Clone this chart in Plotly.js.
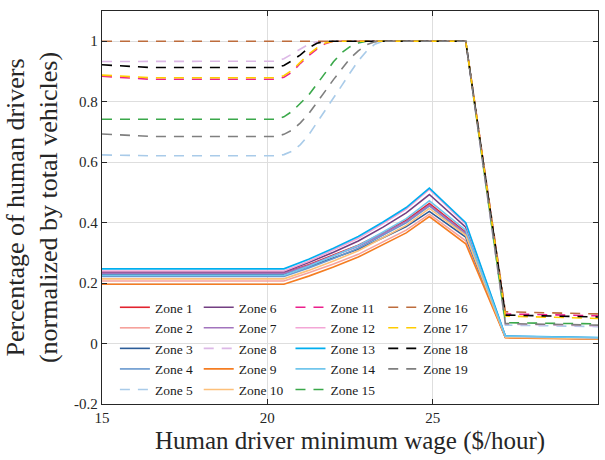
<!DOCTYPE html>
<html><head><meta charset="utf-8">
<script src="https://cdn.plot.ly/plotly-3.0.1.min.js"></script>
<style>html,body{margin:0;padding:0;background:#fff}#chart{width:605px;height:460px}</style>
</head><body><div id="chart"></div>
<script>
// x grids (human driver minimum wage, $/hour)
const xSolid = [15, 20.5, 21.25, 22, 22.75, 23.5, 24.2, 24.9, 26, 27.2, 30];
const xDashed = [15, 16.5, 20.25, 20.5, 20.75, 21, 21.25, 21.5, 21.75, 22, 22.25, 22.5, 22.75, 23, 23.25, 23.5, 26, 27.2, 30];

// solid-line zones
const zone1  = [0.233, 0.233, 0.261, 0.292, 0.325, 0.366, 0.408, 0.463, 0.368, 0.022, 0.017];
const zone2  = [0.207, 0.207, 0.234, 0.263, 0.295, 0.335, 0.375, 0.428, 0.340, 0.020, 0.015];
const zone3  = [0.229, 0.229, 0.254, 0.282, 0.312, 0.350, 0.387, 0.437, 0.352, 0.021, 0.016];
const zone4  = [0.222, 0.222, 0.250, 0.281, 0.315, 0.357, 0.399, 0.455, 0.360, 0.022, 0.017];
const zone6  = [0.237, 0.237, 0.268, 0.302, 0.339, 0.385, 0.432, 0.493, 0.385, 0.023, 0.018];
const zone7  = [0.232, 0.232, 0.259, 0.290, 0.322, 0.363, 0.404, 0.458, 0.365, 0.022, 0.017];
const zone9  = [0.196, 0.196, 0.223, 0.253, 0.286, 0.326, 0.366, 0.420, 0.330, 0.019, 0.014];
const zone10 = [0.214, 0.214, 0.242, 0.273, 0.307, 0.349, 0.391, 0.447, 0.358, 0.021, 0.016];
const zone12 = [0.240, 0.240, 0.272, 0.309, 0.348, 0.397, 0.445, 0.510, 0.395, 0.024, 0.019];
const zone13 = [0.247, 0.247, 0.279, 0.315, 0.354, 0.402, 0.450, 0.514, 0.400, 0.025, 0.020];
const zone14 = [0.226, 0.226, 0.256, 0.289, 0.324, 0.369, 0.413, 0.472, 0.375, 0.024, 0.019];

// dashed-line zones
const zone5  = [0.624, 0.621, 0.621, 0.625, 0.636, 0.658, 0.690, 0.730, 0.771, 0.812, 0.853, 0.895, 0.935, 0.967, 0.990, 1, 1, 0.061, 0.056];
const zone8  = [0.933, 0.933, 0.934, 0.942, 0.958, 0.976, 0.990, 0.998, 1, 1, 1, 1, 1, 1, 1, 1, 1, 0.064, 0.058];
const zone11 = [0.884, 0.874, 0.874, 0.881, 0.898, 0.927, 0.952, 0.974, 0.992, 1, 1, 1, 1, 1, 1, 1, 1, 0.098, 0.092];
const zone15 = [0.742, 0.742, 0.742, 0.750, 0.768, 0.795, 0.822, 0.858, 0.897, 0.932, 0.962, 0.982, 0.994, 1, 1, 1, 1, 0.069, 0.065];
const zone16 = [1, 1, 1, 1, 1, 1, 1, 1, 1, 1, 1, 1, 1, 1, 1, 1, 1, 0.105, 0.098];
const zone17 = [0.888, 0.879, 0.879, 0.886, 0.904, 0.932, 0.957, 0.978, 0.994, 1, 1, 1, 1, 1, 1, 1, 1, 0.091, 0.083];
const zone18 = [0.922, 0.913, 0.913, 0.920, 0.936, 0.955, 0.978, 0.993, 1, 1, 1, 1, 1, 1, 1, 1, 1, 0.094, 0.088];
const zone19 = [0.693, 0.685, 0.685, 0.692, 0.706, 0.730, 0.760, 0.796, 0.835, 0.873, 0.910, 0.943, 0.968, 0.988, 0.998, 1, 1, 0.066, 0.061];

const xTicks = [15, 20, 25, 30];
const yTicks = [-0.2, 0, 0.2, 0.4, 0.6, 0.8, 1];
const yTickText = ['-0.2', '0', '0.2', '0.4', '0.6', '0.8', '1'];

const series = [
  {name: 'Zone 1',  x: xSolid,  y: zone1,  color: '#e2232f', dash: 'solid', legend: 'legend'},
  {name: 'Zone 2',  x: xSolid,  y: zone2,  color: '#f6a29c', dash: 'solid', legend: 'legend'},
  {name: 'Zone 3',  x: xSolid,  y: zone3,  color: '#2b5c98', dash: 'solid', legend: 'legend'},
  {name: 'Zone 4',  x: xSolid,  y: zone4,  color: '#6898cf', dash: 'solid', legend: 'legend'},
  {name: 'Zone 5',  x: xDashed, y: zone5,  color: '#a9cbe9', dash: 'dashed', legend: 'legend'},
  {name: 'Zone 6',  x: xSolid,  y: zone6,  color: '#733f82', dash: 'solid', legend: 'legend2'},
  {name: 'Zone 7',  x: xSolid,  y: zone7,  color: '#a274bd', dash: 'solid', legend: 'legend2'},
  {name: 'Zone 8',  x: xDashed, y: zone8,  color: '#dcb8e6', dash: 'dashed', legend: 'legend2'},
  {name: 'Zone 9',  x: xSolid,  y: zone9,  color: '#f57d22', dash: 'solid', legend: 'legend2'},
  {name: 'Zone 10', x: xSolid,  y: zone10, color: '#fdc07a', dash: 'solid', legend: 'legend2'},
  {name: 'Zone 11', x: xDashed, y: zone11, color: '#ec1f8c', dash: 'dashed', legend: 'legend3'},
  {name: 'Zone 12', x: xSolid,  y: zone12, color: '#f3a6d6', dash: 'solid', legend: 'legend3'},
  {name: 'Zone 13', x: xSolid,  y: zone13, color: '#00aeef', dash: 'solid', legend: 'legend3'},
  {name: 'Zone 14', x: xSolid,  y: zone14, color: '#72c6ec', dash: 'solid', legend: 'legend3'},
  {name: 'Zone 15', x: xDashed, y: zone15, color: '#3aa84a', dash: 'dashed', legend: 'legend3'},
  {name: 'Zone 16', x: xDashed, y: zone16, color: '#bd6c3c', dash: 'dashed', legend: 'legend4'},
  {name: 'Zone 17', x: xDashed, y: zone17, color: '#ffcc00', dash: 'dashed', legend: 'legend4'},
  {name: 'Zone 18', x: xDashed, y: zone18, color: '#000000', dash: 'dashed', legend: 'legend4'},
  {name: 'Zone 19', x: xDashed, y: zone19, color: '#7f7f7f', dash: 'dashed', legend: 'legend4'}
];

const traces = series.map(s => ({
  type: 'scatter', mode: 'lines', name: s.name, x: s.x, y: s.y, legend: s.legend,
  line: {color: s.color, width: 1.6, dash: s.dash === 'dashed' ? '10px,8px' : 'solid'}
}));

const FONT = '"Liberation Serif", "Times New Roman", Times, serif';
function leg(x) {
  return {x: x, y: 0.285, xanchor: 'left', yanchor: 'top', bgcolor: 'rgba(0,0,0,0)',
          borderwidth: 0, font: {family: FONT, size: 13.5, color: '#1a1a1a'}, tracegroupgap: 0,
          orientation: 'v', itemwidth: 30};
}

const layout = {
  width: 605, height: 460,
  margin: {l: 102, r: 7, t: 11, b: 56, pad: 0},
  paper_bgcolor: '#fff', plot_bgcolor: '#fff',
  font: {family: FONT, color: '#262626'},
  showlegend: true,
  legend: leg(0.026), legend2: leg(0.195), legend3: leg(0.380), legend4: leg(0.567),
  xaxis: {
    range: [15, 30], tickvals: xTicks, ticktext: xTicks.map(String),
    showgrid: true, gridcolor: '#dedede', gridwidth: 1, zeroline: false,
    showline: true, linecolor: '#262626', linewidth: 1.3, mirror: 'ticks',
    ticks: 'inside', ticklen: 5, tickcolor: '#262626', tickwidth: 1,
    tickfont: {family: FONT, size: 15, color: '#262626'},
    title: {text: 'Human driver minimum wage ($/hour)', font: {family: FONT, size: 25, color: '#262626'}, standoff: 6},
    automargin: false
  },
  yaxis: {
    range: [-0.2, 1.1], tickvals: yTicks, ticktext: yTickText,
    showgrid: true, gridcolor: '#dedede', gridwidth: 1, zeroline: false,
    showline: true, linecolor: '#262626', linewidth: 1.3, mirror: 'ticks',
    ticks: 'inside', ticklen: 5, tickcolor: '#262626', tickwidth: 1,
    tickfont: {family: FONT, size: 15, color: '#262626'},
    title: {text: 'Percentage of human drivers<br>(normalized by total vehicles)', font: {family: FONT, size: 26, color: '#262626'}, standoff: 8},
    automargin: false
  }
};

Plotly.newPlot('chart', traces, layout, {displayModeBar: false, staticPlot: true});
</script></body></html>
